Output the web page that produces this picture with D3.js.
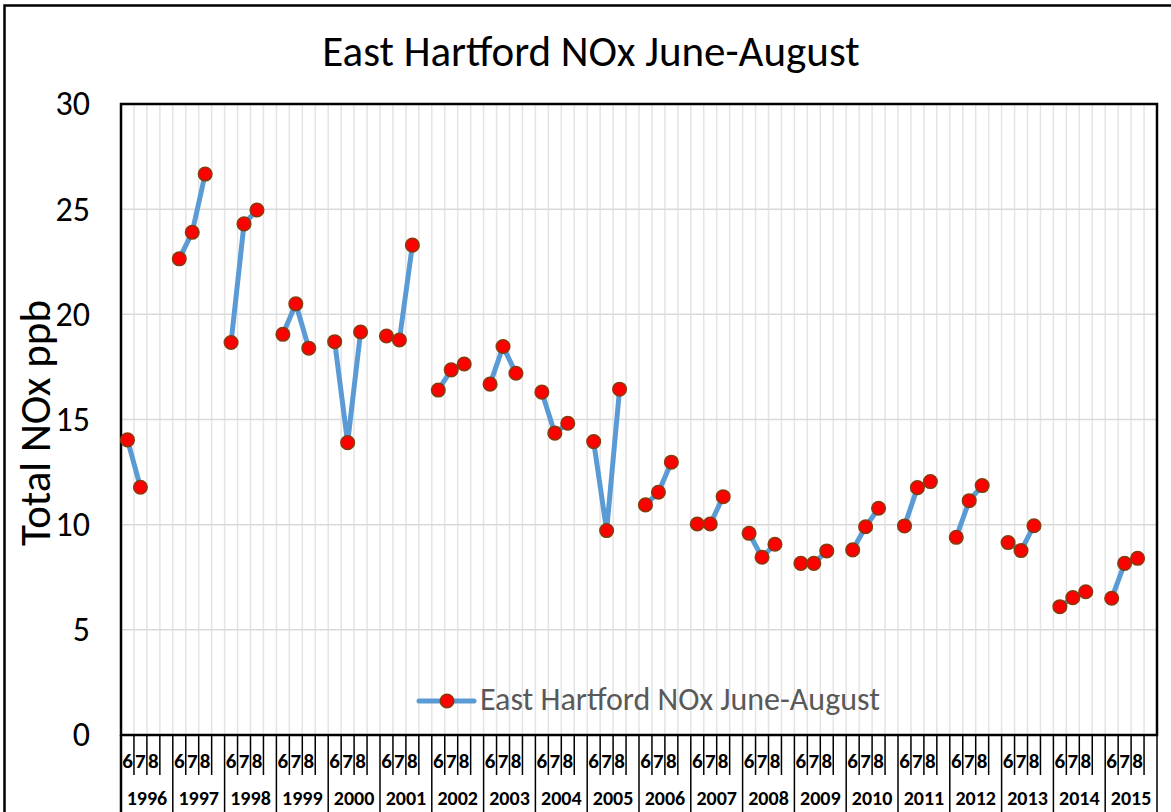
<!DOCTYPE html>
<html>
<head>
<meta charset="utf-8">
<script src="https://cdn.jsdelivr.net/npm/d3@7"></script>
<style>
  body { margin: 0; background: #fff; }
  text { font-family: Carlito, Lato, "Open Sans", sans-serif; }
</style>
</head>
<body>
<div id="chart"></div>
<script>
var years = ["1996","1997","1998","1999","2000","2001","2002","2003","2004","2005",
             "2006","2007","2008","2009","2010","2011","2012","2013","2014","2015"];
var months = ["6", "7", "8"];
var june   = [14.03, 22.64, 18.66, 19.05, 18.7, 18.97, 16.4, 16.68, 16.3, 13.95,
              10.94, 10.03, 9.59, 8.16, 8.8, 9.94, 9.4, 9.15, 6.1, 6.5];
var july   = [11.78, 23.9, 24.3, 20.5, 13.9, 18.78, 17.36, 18.47, 14.35, 9.72,
              11.54, 10.03, 8.45, 8.16, 9.9, 11.76, 11.14, 8.77, 6.53, 8.16];
var august = [null, 26.67, 24.96, 18.39, 19.16, 23.29, 17.64, 17.2, 14.82, 16.44,
              12.97, 11.33, 9.07, 8.75, 10.78, 12.05, 11.86, 9.95, 6.81, 8.4];
var yTicks = [0, 5, 10, 15, 20, 25, 30];
var seriesName = "East Hartford NOx June-August";

var width = 1171, height = 812;
var plot = {left: 121, right: 1157, top: 104, bottom: 735};

var svg = d3.select("#chart").append("svg")
    .attr("width", width)
    .attr("height", height);

svg.append("rect").attr("width", width).attr("height", height).attr("fill", "#fff");

// outer chart border (runs off the right and bottom edges)
svg.append("rect")
    .attr("x", 4.5).attr("y", 5.5)
    .attr("width", 1200).attr("height", 850)
    .attr("fill", "none").attr("stroke", "#000").attr("stroke-width", 2.5);

// one slot per month plus an empty slot after each year
var slots = [];
years.forEach(function(yr) {
  months.forEach(function(m) { slots.push(yr + "-" + m); });
  slots.push(yr + "-gap");
});

var x = d3.scaleBand().domain(slots).range([plot.left, plot.right]).paddingInner(0).paddingOuter(0);
var xYear = d3.scaleBand().domain(years).range([plot.left, plot.right]);
var y = d3.scaleLinear().domain([0, 30]).range([plot.bottom, plot.top]);

var points = [];
years.forEach(function(yr, i) {
  points.push({slot: yr + "-6", v: june[i]});
  points.push({slot: yr + "-7", v: july[i]});
  points.push({slot: yr + "-8", v: august[i]});
  points.push({slot: yr + "-gap", v: null});
});

// gridlines
svg.append("g").selectAll("line")
    .data(slots.slice(1))
    .enter().append("line")
    .attr("x1", function(d) { return x(d); })
    .attr("x2", function(d) { return x(d); })
    .attr("y1", plot.top).attr("y2", plot.bottom)
    .attr("stroke", "#e4e4e4").attr("stroke-width", 1.5);

svg.append("g").selectAll("line")
    .data(yTicks.slice(1, -1))
    .enter().append("line")
    .attr("x1", plot.left).attr("x2", plot.right)
    .attr("y1", function(d) { return y(d); })
    .attr("y2", function(d) { return y(d); })
    .attr("stroke", "#d9d9d9").attr("stroke-width", 1.5);

// plot border
svg.append("rect")
    .attr("x", plot.left).attr("y", plot.top)
    .attr("width", plot.right - plot.left).attr("height", plot.bottom - plot.top)
    .attr("fill", "none").attr("stroke", "#000").attr("stroke-width", 2.5);

// y axis
var yAxis = svg.append("g")
    .attr("transform", "translate(" + plot.left + ",0)")
    .call(d3.axisLeft(y).tickValues(yTicks).tickSize(0).tickPadding(31));
yAxis.select(".domain").remove();
yAxis.selectAll("text")
    .style("font-size", "34px").attr("fill", "#000");

// x axis: month labels and slot separators
var xAxis = svg.append("g")
    .attr("transform", "translate(0," + plot.bottom + ")")
    .call(d3.axisBottom(x).tickSize(0)
      .tickFormat(function(d) { var m = d.split("-")[1]; return m === "gap" ? "" : m; }));
xAxis.select(".domain").remove();
xAxis.selectAll("text")
    .attr("y", 33).attr("dy", null)
    .style("font-size", "21px").style("font-weight", "bold").attr("fill", "#000");

svg.append("g").selectAll("line")
    .data(slots.slice(1))
    .enter().append("line")
    .attr("x1", function(d) { return x(d); })
    .attr("x2", function(d) { return x(d); })
    .attr("y1", plot.bottom)
    .attr("y2", function(d) { return d.split("-")[1] === "6" ? height : 775; })
    .attr("stroke", "#000").attr("stroke-width", 1.5);

svg.append("line")
    .attr("x1", plot.right).attr("x2", plot.right)
    .attr("y1", plot.bottom).attr("y2", height)
    .attr("stroke", "#000").attr("stroke-width", 1.5);
svg.append("line")
    .attr("x1", plot.left).attr("x2", plot.left)
    .attr("y1", plot.bottom).attr("y2", height)
    .attr("stroke", "#000").attr("stroke-width", 2.5);

// year labels
var yearAxis = svg.append("g")
    .call(d3.axisBottom(xYear).tickSize(0));
yearAxis.select(".domain").remove();
yearAxis.selectAll("text")
    .attr("y", 805).attr("dy", null)
    .style("font-size", "20px").style("font-weight", "bold").attr("fill", "#000");

// series
var line = d3.line()
    .defined(function(d) { return d.v != null; })
    .x(function(d) { return x(d.slot) + x.bandwidth() / 2; })
    .y(function(d) { return y(d.v); });

svg.append("path")
    .datum(points)
    .attr("fill", "none")
    .attr("stroke", "#5b9bd5")
    .attr("stroke-width", 5)
    .attr("stroke-linejoin", "round")
    .attr("d", line);

svg.append("g").selectAll("circle")
    .data(points.filter(function(d) { return d.v != null; }))
    .enter().append("circle")
    .attr("cx", function(d) { return x(d.slot) + x.bandwidth() / 2; })
    .attr("cy", function(d) { return y(d.v); })
    .attr("r", 6.8)
    .attr("fill", "#ff0000")
    .attr("stroke", "#843c0c")
    .attr("stroke-width", 1.5);

// legend
var legend = svg.append("g").attr("transform", "translate(419,701)");
legend.append("line")
    .attr("x1", 0).attr("x2", 55)
    .attr("stroke", "#5b9bd5").attr("stroke-width", 5).attr("stroke-linecap", "round");
legend.append("circle")
    .attr("cx", 28).attr("r", 6.8)
    .attr("fill", "#ff0000").attr("stroke", "#843c0c").attr("stroke-width", 1.5);
legend.append("text")
    .attr("x", 61).attr("y", 9)
    .style("font-size", "32px").attr("fill", "#595959")
    .text(seriesName);

// title
svg.append("text")
    .attr("x", 591).attr("y", 66)
    .attr("text-anchor", "middle")
    .style("font-size", "43px").attr("fill", "#000")
    .text(seriesName);

// y axis title
svg.append("text")
    .attr("transform", "translate(50,423) rotate(-90)")
    .attr("text-anchor", "middle")
    .style("font-size", "43px").attr("fill", "#000")
    .text("Total NOx ppb");
</script>
</body>
</html>
